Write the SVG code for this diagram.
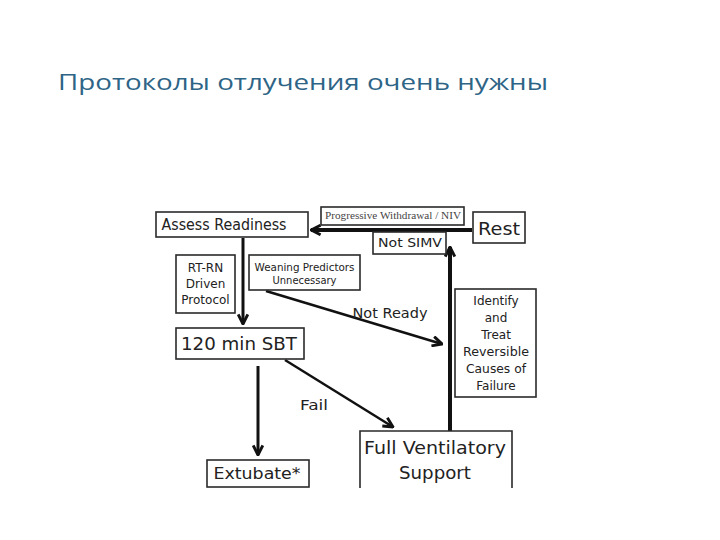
<svg xmlns="http://www.w3.org/2000/svg" width="720" height="540" viewBox="0 0 720 540">
  <style>
    .box { fill: #fff; stroke: #2a2a2a; stroke-width: 1.6; }
    .t { font-family: "DejaVu Sans", "Liberation Sans", sans-serif; fill: #222; text-anchor: middle; dominant-baseline: central; }
    .s { font-family: "Liberation Serif", serif; fill: #444; text-anchor: middle; dominant-baseline: central; }
    .ln { stroke: #111; fill: none; stroke-linecap: butt; }
  </style>
  <defs>
    <marker id="ah" viewBox="0 0 10 10" refX="9" refY="5" markerWidth="12" markerHeight="12" markerUnits="userSpaceOnUse" orient="auto">
      <polyline points="1,1 9,5 1,9" fill="none" stroke="#111" stroke-width="2.4" stroke-linejoin="miter"/>
    </marker>
  </defs>
  <rect width="720" height="540" fill="#fff"/>
  <text x="58" y="90" font-family="Open Sans, Liberation Sans, sans-serif" font-size="22" fill="#2e6486" textLength="490" lengthAdjust="spacingAndGlyphs">Протоколы отлучения очень нужны</text>

  <g id="connectors">
    <line class="ln" x1="472" y1="230" x2="311" y2="230" stroke-width="4" marker-end="url(#ah)"/>
    <line class="ln" x1="243" y1="238" x2="243" y2="324" stroke-width="3" marker-end="url(#ah)"/>
    <line class="ln" x1="266" y1="291" x2="442" y2="344" stroke-width="2.5" marker-end="url(#ah)"/>
    <line class="ln" x1="285" y1="360" x2="393" y2="427" stroke-width="2.5" marker-end="url(#ah)"/>
    <line class="ln" x1="258" y1="366" x2="258" y2="455" stroke-width="3" marker-end="url(#ah)"/>
    <line class="ln" x1="450" y1="431" x2="450" y2="247" stroke-width="4" marker-end="url(#ah)"/>
    <text class="t" x="390" y="313" font-size="14" textLength="75" lengthAdjust="spacingAndGlyphs">Not Ready</text>
    <text class="t" x="314" y="405" font-size="14" textLength="28" lengthAdjust="spacingAndGlyphs">Fail</text>
  </g>

  <g id="assess">
    <rect class="box" x="156" y="212" width="152" height="25"/>
    <text class="t" x="224" y="225" font-size="15" textLength="125" lengthAdjust="spacingAndGlyphs">Assess Readiness</text>
  </g>
  <g id="progressive">
    <rect class="box" x="321" y="207" width="143" height="18"/>
    <text class="s" x="393" y="216" font-size="9.5" textLength="136" lengthAdjust="spacingAndGlyphs">Progressive Withdrawal / NIV</text>
  </g>
  <g id="rest">
    <rect class="box" x="473" y="212" width="52" height="31"/>
    <text class="t" x="499" y="228" font-size="18" textLength="42" lengthAdjust="spacingAndGlyphs">Rest</text>
  </g>
  <g id="notsimv">
    <rect class="box" x="373" y="232" width="73" height="22"/>
    <text class="t" x="410" y="243" font-size="12" textLength="64" lengthAdjust="spacingAndGlyphs">Not SIMV</text>
  </g>
  <g id="rtrn">
    <rect class="box" x="176" y="255" width="59" height="58"/>
    <text class="t" x="205.5" y="268" font-size="12">RT-RN</text>
    <text class="t" x="205.5" y="284" font-size="12">Driven</text>
    <text class="t" x="205.5" y="300" font-size="12">Protocol</text>
  </g>
  <g id="weaning">
    <rect class="box" x="249" y="255" width="111" height="35"/>
    <text class="t" x="304.5" y="267" font-size="10" textLength="100" lengthAdjust="spacingAndGlyphs">Weaning Predictors</text>
    <text class="t" x="304.5" y="280" font-size="10" textLength="64" lengthAdjust="spacingAndGlyphs">Unnecessary</text>
  </g>
  <g id="sbt">
    <rect class="box" x="176" y="328" width="128" height="31"/>
    <text class="t" x="239" y="343" font-size="18" textLength="116" lengthAdjust="spacingAndGlyphs">120 min SBT</text>
  </g>
  <g id="identify">
    <rect class="box" x="455" y="289" width="81" height="108"/>
    <text class="t" x="496" y="301" font-size="12">Identify</text>
    <text class="t" x="496" y="318" font-size="12">and</text>
    <text class="t" x="496" y="335" font-size="12">Treat</text>
    <text class="t" x="496" y="352" font-size="12" textLength="66" lengthAdjust="spacingAndGlyphs">Reversible</text>
    <text class="t" x="496" y="369" font-size="12" textLength="60" lengthAdjust="spacingAndGlyphs">Causes of</text>
    <text class="t" x="496" y="386" font-size="12">Failure</text>
  </g>
  <g id="extubate">
    <rect class="box" x="207" y="460" width="102" height="27"/>
    <text class="t" x="257" y="474" font-size="15" textLength="87" lengthAdjust="spacingAndGlyphs">Extubate*</text>
  </g>
  <g id="fullvent">
    <path class="box" d="M360,488 V431 H512 V488" />
    <text class="t" x="435" y="447" font-size="18" textLength="142" lengthAdjust="spacingAndGlyphs">Full Ventilatory</text>
    <text class="t" x="435" y="472" font-size="18" textLength="72" lengthAdjust="spacingAndGlyphs">Support</text>
  </g>
  <rect x="0" y="488" width="720" height="52" fill="#fff"/>
</svg>
